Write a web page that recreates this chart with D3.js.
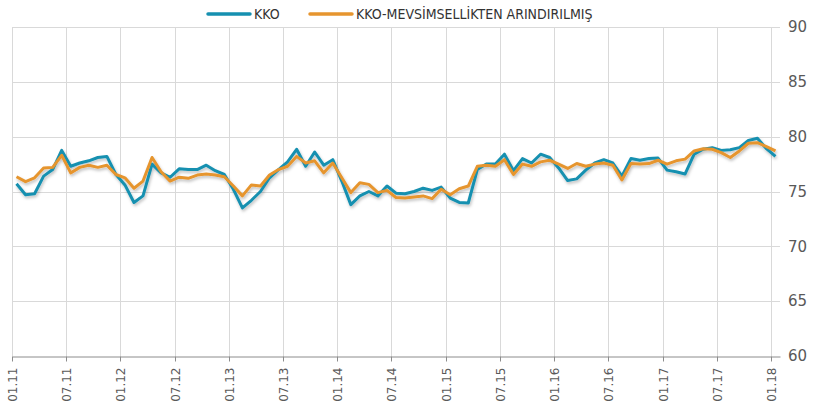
<!DOCTYPE html>
<html>
<head>
<meta charset="utf-8">
<script src="https://cdn.jsdelivr.net/npm/d3@7"></script>
<style>
  body { margin: 0; background: #fff; }
  svg { display: block; }
</style>
</head>
<body>
<svg id="chart" width="816" height="412"></svg>
<script>
// monthly, 01.2011 - 01.2018
const months = []
for (let y = 11; y <= 18; y++) {
  for (let m = 1; m <= 12; m++) {
    if (y === 18 && m > 1) break
    months.push((m < 10 ? '0' + m : '' + m) + '.' + y)
  }
}

const kko = [
  75.7, 74.7, 74.8, 76.4, 77.0, 78.75, 77.3, 77.6, 77.8, 78.1, 78.2, 76.55,
  75.6, 74.0, 74.6, 77.5, 76.7, 76.3, 77.07, 77.0, 77.0, 77.4, 76.9, 76.55,
  75.2, 73.5, 74.2, 75.0, 76.25, 77.0, 77.7, 78.85, 77.3, 78.6, 77.4, 77.9,
  75.95, 73.8, 74.6, 75.0, 74.6, 75.5, 74.85, 74.8, 75.0, 75.3, 75.1, 75.4,
  74.4, 74.0, 73.95, 77.0, 77.5, 77.5, 78.4, 76.9, 78.0, 77.6, 78.4, 78.1,
  77.15, 76.0, 76.15, 76.95, 77.6, 77.9, 77.6, 76.4, 78.0, 77.85, 78.0, 78.05,
  76.95, 76.8, 76.6, 78.4, 78.85, 79.0, 78.75, 78.8, 79.0, 79.65, 79.85, 78.9,
  78.2
]

const kkoSa = [
  76.35, 75.9, 76.25, 77.15, 77.2, 78.3, 76.7, 77.2, 77.4, 77.2, 77.4, 76.55,
  76.25, 75.3, 75.95, 78.1, 76.8, 75.95, 76.3, 76.2, 76.5, 76.6, 76.5, 76.35,
  75.5, 74.6, 75.6, 75.5, 76.5, 77.0, 77.3, 78.2, 77.6, 77.8, 76.7, 77.6,
  76.25, 74.9, 75.8, 75.65, 74.9, 75.1, 74.45, 74.4, 74.5, 74.6, 74.35, 75.2,
  74.7, 75.25, 75.5, 77.3, 77.4, 77.3, 77.9, 76.55, 77.5, 77.3, 77.7, 77.85,
  77.5, 77.1, 77.55, 77.3, 77.5, 77.6, 77.4, 76.05, 77.55, 77.5, 77.55, 77.85,
  77.5, 77.8, 77.95, 78.7, 78.9, 78.85, 78.55, 78.1, 78.7, 79.4, 79.45, 79.1,
  78.7
]

const yTicks = [60, 65, 70, 75, 80, 85, 90]
const seriesNames = ['KKO', 'KKO-MEVSİMSELLİKTEN ARINDIRILMIŞ']
const colors = ['#1690b0', '#e6952f']

const svg = d3.select('#chart')

const x = d3.scaleBand().domain(months).range([12, 780]).paddingInner(0).paddingOuter(0)
const y = d3.scaleLinear().domain([60, 90]).range([356, 27])

const tickMonths = months.filter((d, i) => i % 6 === 0)

// shadow under the lines
const defs = svg.append('defs')
const f = defs.append('filter').attr('id', 'shadow')
  .attr('x', '-5%').attr('y', '-20%').attr('width', '110%').attr('height', '140%')
f.append('feDropShadow').attr('dx', 1).attr('dy', 2).attr('stdDeviation', 1.5)
  .attr('flood-color', '#000').attr('flood-opacity', 0.25)

// gridlines
svg.append('g')
  .selectAll('line')
  .data(yTicks.slice(1))
  .join('line')
  .attr('x1', 12).attr('x2', 780)
  .attr('y1', d => Math.round(y(d)) + 0.5).attr('y2', d => Math.round(y(d)) + 0.5)
  .attr('stroke', '#d9d9d9')

svg.append('g')
  .selectAll('line')
  .data(tickMonths)
  .join('line')
  .attr('x1', d => Math.round(x(d)) + 0.5).attr('x2', d => Math.round(x(d)) + 0.5)
  .attr('y1', y(90)).attr('y2', y(60))
  .attr('stroke', '#d9d9d9')

// x axis
const xAxis = svg.append('g')
  .attr('transform', 'translate(0,' + (Math.round(y(60)) + 0.5) + ')')
  .call(d3.axisBottom(x).tickValues(tickMonths).tickSize(5).tickSizeOuter(0))
xAxis.select('.domain').attr('stroke', '#8c8c8c')
xAxis.selectAll('.tick')
  .attr('transform', d => 'translate(' + (Math.round(x(d)) + 0.5) + ',0)')
xAxis.selectAll('.tick line').attr('stroke', '#8c8c8c')
xAxis.selectAll('.tick text')
  .attr('transform', 'rotate(-90)')
  .attr('x', -11).attr('y', 0).attr('dy', '0.35em')
  .attr('text-anchor', 'end')
  .attr('fill', '#595959')
  .style('font-family', 'Verdana, "DejaVu Sans", sans-serif')
  .style('font-size', '12px')

// y labels on the right
svg.append('g')
  .selectAll('text')
  .data(yTicks)
  .join('text')
  .attr('x', 788)
  .attr('y', d => y(d))
  .attr('dy', '0.35em')
  .attr('fill', '#595959')
  .style('font-family', 'Verdana, "DejaVu Sans", sans-serif')
  .style('font-size', '15px')
  .text(d => d)

// lines
const line = d3.line()
  .x((d, i) => x(months[i]) + x.bandwidth() / 2)
  .y(d => y(d))

const lines = svg.append('g').attr('filter', 'url(#shadow)')
lines.append('path').datum(kko)
  .attr('fill', 'none').attr('stroke', colors[0]).attr('stroke-width', 3)
  .attr('stroke-linejoin', 'round').attr('d', line)
lines.append('path').datum(kkoSa)
  .attr('fill', 'none').attr('stroke', colors[1]).attr('stroke-width', 3)
  .attr('stroke-linejoin', 'round').attr('d', line)

// legend
const legendX = [208, 310]
const legend = svg.append('g')
  .selectAll('g')
  .data(seriesNames)
  .join('g')
  .attr('transform', (d, i) => 'translate(' + legendX[i] + ',14)')
legend.append('line')
  .attr('x1', 0).attr('x2', 42)
  .attr('stroke', (d, i) => colors[i]).attr('stroke-width', 3.5)
  .attr('stroke-linecap', 'round')
legend.append('text')
  .attr('x', 46).attr('dy', '0.35em')
  .attr('fill', '#333')
  .style('font-family', '"Liberation Sans Narrow", "DejaVu Sans Condensed", sans-serif')
  .style('font-size', '14px')
  .text(d => d)
</script>
</body>
</html>
